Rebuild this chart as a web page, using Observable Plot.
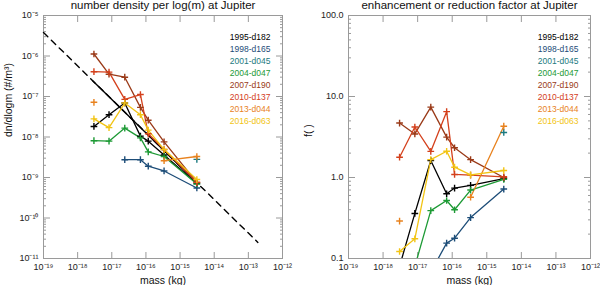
<!DOCTYPE html>
<html>
<head>
<meta charset="utf-8">
<script src="https://cdn.jsdelivr.net/npm/d3@7"></script>
<script src="https://cdn.jsdelivr.net/npm/@observablehq/plot@0.6"></script>
<style>
  html, body { margin: 0; padding: 0; background: #fff; }
  #wrap { display: flex; width: 600px; height: 285px; }
  #wrap > svg, #wrap > figure { margin: 0; }
</style>
</head>
<body>
<div id="wrap"></div>
<script>
// ---------- data ----------
const seriesNames = ["1995-d182", "1998-d165", "2001-d045", "2004-d047", "2007-d190", "2010-d137", "2013-d044", "2016-d063"];
const seriesColors = ["#000000", "#1d4d78", "#1b7a80", "#1d9a35", "#9a3a18", "#d4401c", "#e8821e", "#f2c414"];
const masses = [3.0e-18, 8.3e-18, 2.4e-17, 6.9e-17, 1.17e-16, 3.4e-16, 3.1e-15]; // kg

// left panel: number density per log(m) (#/m^3)
const dens1995 = [1.82e-8, 3.55e-8, 6.9e-8, 1.05e-8, 7.9e-9, 3.6e-9, 7.1e-10];
const dens1998 = [null, null, 2.75e-9, 2.75e-9, 1.9e-9, 1.45e-9, 5.5e-10];
const dens2001 = [null, null, null, null, null, null, 2.8e-9];
const dens2004 = [8.1e-9, 7.9e-9, 1.66e-8, 9.5e-9, 4.3e-9, 3.3e-9, 6.9e-10];
const dens2007 = [1.12e-6, 3.55e-7, 3.0e-7, 5.4e-8, 2.6e-8, 7.6e-9, 7.6e-10];
const dens2010 = [4.1e-7, 4.0e-7, 8.5e-8, 1.12e-7, 1.2e-8, 4.9e-9, 7.6e-10];
const dens2013 = [7.2e-8, null, null, null, null, 2.6e-9, 3.3e-9];
const dens2016 = [2.8e-8, 1.7e-8, 6.9e-8, 3.55e-8, 1.48e-8, 4.9e-9, 8.9e-10];

// right panel: enhancement or reduction factor
const fac1995 = [0.08, 0.36, 1.62, 0.63, 0.74, 0.80, 0.97];
const fac1998 = [null, null, 0.068, 0.155, 0.178, 0.32, 0.72];
const fac2001 = [null, null, null, null, null, null, 3.6];
const fac2004 = [0.035, 0.08, 0.39, 0.52, 0.40, 0.70, 0.95];
const fac2007 = [4.7, 3.45, 7.4, 3.15, 2.33, 1.66, 1.0];
const fac2010 = [1.78, 4.2, 2.1, 6.5, 1.09, 1.07, 1.02];
const fac2013 = [0.29, null, null, null, null, 0.57, 4.3];
const fac2016 = [0.122, 0.175, 1.66, 2.11, 1.34, 1.08, 1.22];

// model power law (dashed) and its solid part over the data range
const modelMass = [1e-19, 1.9e-13];
const modelDens = [3.8e-6, 2.5e-11];
const modelSolidMass = [2.8e-18, 3.1e-15];
const modelSolidDens = [2.4e-7, 7.4e-10];

// ticks
const xTicks = [1e-19, 1e-18, 1e-17, 1e-16, 1e-15, 1e-14, 1e-13, 1e-12];
const xTickLabels = ["10⁻¹⁹", "10⁻¹⁸", "10⁻¹⁷", "10⁻¹⁶", "10⁻¹⁵", "10⁻¹⁴", "10⁻¹³", "10⁻¹²"];
const yTicksL = [1e-11, 1e-10, 1e-9, 1e-8, 1e-7, 1e-6, 1e-5];
const yTickLabelsL = ["10⁻¹¹", "10⁻¹⁰", "10⁻⁹", "10⁻⁸", "10⁻⁷", "10⁻⁶", "10⁻⁵"];
const yTicksR = [0.1, 1, 10, 100];
const yTickLabelsR = ["0.1", "1.0", "10.0", "100.0"];

// ---------- build tables ----------
const densSets = [dens1995, dens1998, dens2001, dens2004, dens2007, dens2010, dens2013, dens2016];
const facSets = [fac1995, fac1998, fac2001, fac2004, fac2007, fac2010, fac2013, fac2016];
function rows(sets) {
  const out = [];
  sets.forEach((vals, s) => vals.forEach((v, i) => out.push({series: seriesNames[s], mass: masses[i], value: v == null ? NaN : v})));
  return out;
}
const leftRows = rows(densSets);
const rightRows = rows(facSets);
const modelRows = modelMass.map((m, i) => ({mass: m, value: modelDens[i]}));
const modelSolidRows = modelSolidMass.map((m, i) => ({mass: m, value: modelSolidDens[i]}));

function minorTicks(lo, hi) {
  const t = [];
  for (let e = lo; e < hi; e++) for (let k = 2; k <= 9; k++) t.push(k * Math.pow(10, e));
  return t;
}

const FONT = "'Liberation Sans', Arial, Helvetica, sans-serif";
const axisColor = "#9a9a9a";
const fmt = (ticks, labels) => (d) => { const i = ticks.findIndex(t => Math.abs(Math.log10(t) - Math.log10(d)) < 1e-6); return i >= 0 ? labels[i] : ""; };

function panel({rowsData, yDomain, yTicks, yLabels, yMinor, ml, mr, title, ylabel, extra, legendDx}) {
  const color = {domain: seriesNames, range: seriesColors};
  return Plot.plot({
    width: 300, height: 285,
    marginLeft: ml, marginRight: mr, marginTop: 15, marginBottom: 27,
    x: {type: "log", domain: [1e-19, 1e-12]},
    y: {type: "log", domain: yDomain},
    color,
    style: {fontFamily: FONT, fontSize: "9px", color: "#222", background: "#fff", overflow: "visible"},
    marks: [
      Plot.frame({stroke: axisColor}),
      Plot.axisX({ticks: xTicks, tickFormat: fmt(xTicks, xTickLabels), tickSize: -6, stroke: axisColor, fill: "#222", label: null, tickPadding: 11.5}),
      Plot.axisX({ticks: xTicks, anchor: "top", tickFormat: () => "", tickSize: -6, stroke: axisColor, label: null}),
      Plot.axisY({ticks: yTicks, tickFormat: fmt(yTicks, yLabels), tickSize: -7, stroke: axisColor, fill: "#222", label: null, tickPadding: 12}),
      Plot.axisY({ticks: yMinor, tickFormat: () => "", tickSize: -3, stroke: axisColor, label: null}),
      Plot.axisY({ticks: yTicks, anchor: "right", tickFormat: () => "", tickSize: -7, stroke: axisColor, label: null}),
      Plot.axisY({ticks: yMinor, anchor: "right", tickFormat: () => "", tickSize: -3, stroke: axisColor, label: null}),
      ...extra,
      Plot.line(rowsData, {x: "mass", y: "value", z: "series", stroke: "series", strokeWidth: 1.3, clip: true}),
      Plot.dot(rowsData, {x: "mass", y: "value", stroke: "series", symbol: "plus", r: 2.3, strokeWidth: 1.4, clip: true}),
      ...seriesNames.map((n, i) => Plot.text([n], {frameAnchor: "top-right", dx: legendDx, dy: 18 + i * 12.1, text: d => d, fill: seriesColors[i], textAnchor: "end", fontSize: 8.5})),
      Plot.text([title], {frameAnchor: "top", dy: -15, text: d => d, fontSize: 11.5, fill: "#111"}),
      Plot.text(["mass (kg)"], {frameAnchor: "bottom", dy: 25, text: d => d, fontSize: 10.5, fill: "#111"}),
      Plot.text([ylabel], {frameAnchor: "left", dx: -ml + 8, rotate: -90, text: d => d, fontSize: 10.5, fill: "#111"})
    ]
  });
}

const left = panel({
  rowsData: leftRows, yDomain: [1e-11, 1e-5], yTicks: yTicksL, yLabels: yTickLabelsL, yMinor: minorTicks(-11, -5),
  ml: 43, mr: 18, title: "number density per log(m) at Jupiter", ylabel: "dn/dlogm (#/m³)", legendDx: -12,
  extra: [
    Plot.line(modelRows, {x: "mass", y: "value", stroke: "#000", strokeWidth: 1.4, strokeDasharray: "6,5"}),
    Plot.line(modelSolidRows, {x: "mass", y: "value", stroke: "#000", strokeWidth: 1.4})
  ]
});
const right = panel({
  rowsData: rightRows, yDomain: [0.1, 100], yTicks: yTicksR, yLabels: yTickLabelsR, yMinor: minorTicks(-1, 2),
  ml: 48, mr: 10, title: "enhancement or reduction factor at Jupiter", ylabel: "f( )", legendDx: -12,
  extra: []
});
document.getElementById("wrap").append(left, right);
</script>
</body>
</html>
